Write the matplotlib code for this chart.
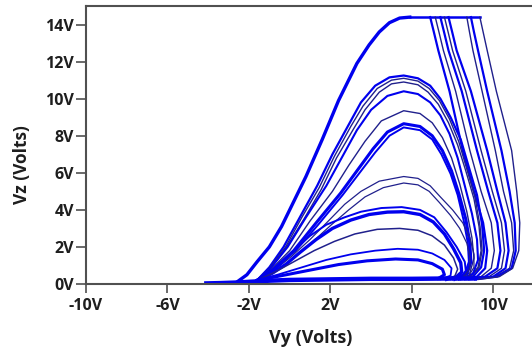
import matplotlib
matplotlib.use("Agg")
import matplotlib.pyplot as plt
from matplotlib.font_manager import FontProperties

# Axis ticks
x_ticks = [-10, -6, -2, 2, 6, 10]
y_ticks = [0, 2, 4, 6, 8, 10, 12, 14]

# Outer (saturated) loops: shared rise, flat top at 14.4V, then a fan of descents
outer_rise_vy = [-2.6, -2.1, -1.6, -1.0, -0.4, 0.0, 0.8, 1.6, 2.4, 3.3, 3.9, 4.4, 4.9, 5.4, 5.9]
outer_rise_vz = [0.1, 0.5, 1.2, 2.0, 3.1, 4.0, 5.8, 7.8, 9.9, 11.9, 12.9, 13.6, 14.1, 14.35, 14.4]
fall_vz = [14.4, 13.6, 12.6, 10.4, 7.2, 5.0, 3.3, 1.8, 0.85, 0.4, 0.25]
d1_vy = [6.9, 7.08, 7.3, 7.85, 8.5, 9.05, 9.5, 9.7, 9.6, 9.2, 8.4]
d2_vy = [7.15, 7.33, 7.55, 8.15, 8.85, 9.4, 9.9, 10.05, 9.9, 9.4, 8.5]
d3_vy = [7.4, 7.58, 7.8, 8.45, 9.2, 9.75, 10.2, 10.35, 10.2, 9.6, 8.6]
d4_vy = [7.6, 7.78, 8.0, 8.65, 9.4, 9.95, 10.4, 10.55, 10.4, 9.8, 8.7]
d5_vy = [7.8, 7.98, 8.2, 8.9, 9.7, 10.2, 10.6, 10.75, 10.6, 10.0, 8.8]
d6_vy = [8.7, 8.83, 9.0, 9.45, 10.1, 10.5, 10.9, 11.0, 10.8, 10.1, 9.0]
d7_vy = [8.9, 9.05, 9.25, 9.7, 10.4, 10.8, 11.05, 11.1, 10.9, 10.2, 9.1]
d8_vy = [9.34, 9.5, 9.7, 10.15, 10.9, 11.15, 11.3, 11.25, 10.95, 10.3, 9.3]

# Middle loops (peaks 8.5V - 11.3V)
m1_vy = [-1.6, -1.0, -0.3, 0.5, 1.35, 2.1, 2.9, 3.5, 4.2, 4.9, 5.6, 6.3, 6.9, 7.4, 7.9, 8.4, 8.8, 9.2, 9.45, 9.55, 9.4, 9.0, 8.3]
m1_vz = [0.2, 0.9, 2.0, 3.6, 5.3, 7.0, 8.6, 9.8, 10.7, 11.15, 11.25, 11.1, 10.7, 10.0, 9.0, 7.8, 6.3, 4.8, 3.2, 1.8, 0.9, 0.4, 0.25]
m2_vy = [-1.6, -0.95, -0.2, 0.6, 1.45, 2.2, 3.0, 3.6, 4.3, 5.0, 5.6, 6.3, 6.85, 7.35, 7.85, 8.3, 8.7, 9.1, 9.35, 9.45, 9.3, 8.9, 8.2]
m2_vz = [0.2, 0.9, 2.0, 3.6, 5.2, 6.9, 8.5, 9.6, 10.55, 11.0, 11.1, 10.95, 10.55, 9.9, 8.9, 7.7, 6.2, 4.7, 3.1, 1.8, 0.9, 0.4, 0.25]
m3_vy = [-1.6, -0.9, -0.15, 0.7, 1.55, 2.3, 3.1, 3.7, 4.4, 5.0, 5.6, 6.3, 6.8, 7.3, 7.8, 8.25, 8.65, 9.05, 9.3, 9.4, 9.25, 8.85, 8.2]
m3_vz = [0.2, 0.9, 2.0, 3.5, 5.1, 6.8, 8.3, 9.4, 10.35, 10.8, 10.9, 10.75, 10.35, 9.7, 8.7, 7.5, 6.1, 4.6, 3.1, 1.8, 0.9, 0.4, 0.25]
m4_vy = [-1.6, -0.9, -0.1, 0.8, 1.8, 2.6, 3.3, 4.0, 4.8, 5.6, 6.3, 6.9, 7.4, 7.85, 8.25, 8.6, 8.95, 9.2, 9.25, 9.0, 8.3]
m4_vz = [0.2, 0.9, 2.0, 3.6, 5.3, 6.9, 8.3, 9.4, 10.15, 10.4, 10.25, 9.8, 9.1, 8.1, 6.8, 5.3, 3.8, 2.4, 1.3, 0.55, 0.25]
m5_vy = [-1.6, -0.9, 0.0, 1.0, 2.1, 2.9, 3.7, 4.5, 5.6, 6.4, 7.0, 7.5, 7.95, 8.35, 8.7, 8.95, 9.05, 8.85, 8.2]
m5_vz = [0.2, 0.8, 1.8, 3.4, 5.0, 6.4, 7.7, 8.8, 9.35, 9.2, 8.7, 7.9, 6.8, 5.4, 3.9, 2.5, 1.4, 0.6, 0.25]
m6_vy = [-1.6, -0.8, 0.2, 1.3, 2.5, 3.3, 4.1, 4.8, 5.6, 6.4, 7.0, 7.5, 7.95, 8.3, 8.65, 8.85, 8.9, 8.7, 8.1]
m6_vz = [0.2, 0.8, 1.8, 3.3, 4.9, 6.1, 7.3, 8.2, 8.65, 8.5, 8.0, 7.2, 6.1, 4.9, 3.5, 2.2, 1.2, 0.55, 0.25]
m7_vy = [-1.6, -0.75, 0.3, 1.4, 2.6, 3.4, 4.2, 4.9, 5.6, 6.4, 7.0, 7.45, 7.9, 8.25, 8.55, 8.75, 8.8, 8.6, 8.0]
m7_vz = [0.2, 0.8, 1.8, 3.2, 4.8, 5.95, 7.1, 8.0, 8.45, 8.3, 7.8, 7.0, 5.95, 4.8, 3.4, 2.2, 1.2, 0.55, 0.25]

# Low loops (peaks 1.3V - 5.8V)
l1_vy = [-1.6, -0.8, 0.1, 1.0, 1.9, 2.7, 3.5, 4.4, 5.6, 6.3, 6.9, 7.4, 8.0, 8.5, 8.85, 9.05, 9.05, 8.8, 8.2]
l1_vz = [0.2, 0.7, 1.5, 2.4, 3.4, 4.3, 5.0, 5.55, 5.8, 5.7, 5.3, 4.7, 4.0, 3.3, 2.5, 1.6, 0.9, 0.45, 0.25]
l2_vy = [-1.6, -0.75, 0.2, 1.1, 2.0, 2.9, 3.7, 4.6, 5.6, 6.3, 6.85, 7.35, 7.9, 8.35, 8.7, 8.85, 8.85, 8.6, 8.0]
l2_vz = [0.2, 0.65, 1.4, 2.25, 3.15, 4.0, 4.7, 5.2, 5.45, 5.35, 5.0, 4.4, 3.7, 3.0, 2.2, 1.45, 0.85, 0.45, 0.25]
l3_vy = [-1.6, -1.0, -0.4, 0.2, 1.0, 1.8, 2.7, 3.5, 4.5, 5.5, 6.4, 7.1, 7.7, 8.2, 8.6, 8.65, 8.4, 7.9]
l3_vz = [0.2, 0.55, 1.1, 1.8, 2.6, 3.2, 3.6, 3.9, 4.1, 4.15, 4.0, 3.6, 2.8, 2.0, 1.2, 0.7, 0.4, 0.25]
l4_vy = [-1.6, -0.9, -0.2, 0.5, 1.3, 2.1, 3.0, 3.9, 4.8, 5.6, 6.4, 7.05, 7.6, 8.05, 8.4, 8.45, 8.2, 7.7]
l4_vz = [0.2, 0.55, 1.05, 1.7, 2.4, 3.0, 3.45, 3.75, 3.88, 3.9, 3.75, 3.35, 2.7, 1.9, 1.15, 0.65, 0.4, 0.25]
l5_vy = [-1.6, -0.8, 0.2, 1.2, 2.2, 3.2, 4.3, 5.4, 6.3, 7.0, 7.6, 8.05, 8.25, 8.1, 7.6]
l5_vz = [0.2, 0.6, 1.2, 1.8, 2.3, 2.7, 2.95, 3.0, 2.9, 2.6, 2.1, 1.4, 0.8, 0.4, 0.25]
l6_vy = [-1.6, -0.6, 0.6, 1.8, 3.0, 4.2, 5.3, 6.3, 7.0, 7.6, 7.95, 7.9, 7.4]
l6_vz = [0.2, 0.5, 0.9, 1.3, 1.6, 1.8, 1.9, 1.85, 1.65, 1.3, 0.85, 0.45, 0.25]
l7_vy = [-1.6, -0.4, 1.0, 2.4, 3.8, 5.2, 6.3, 7.0, 7.5, 7.6, 7.3]
l7_vz = [0.2, 0.45, 0.75, 1.05, 1.25, 1.35, 1.3, 1.1, 0.8, 0.5, 0.3]

# Return path along the bottom
bottom_vy = [-4.2, -3.4, -2.6, -1.8, -1.0, 0.0, 2.0, 4.0, 6.0, 8.0, 9.2]
bottom_vz = [0.03, 0.05, 0.08, 0.13, 0.18, 0.22, 0.25, 0.28, 0.28, 0.3, 0.3]

blue = "#0000ee"
navy = "#20208c"
text_c = "#1e1e1e"

fig = plt.figure(figsize=(5.32, 3.54), dpi=100)
ax = fig.add_axes([0.1617, 0.1977, 0.8383, 0.7853])

# outer loops
ax.plot(outer_rise_vy, outer_rise_vz, color=blue, lw=2.4)
ax.plot([outer_rise_vy[-1], d8_vy[0]], [14.4, 14.4], color=blue, lw=1.8)
for i, dvy in enumerate([d1_vy, d2_vy, d3_vy, d4_vy, d5_vy, d6_vy, d7_vy, d8_vy]):
    ax.plot(dvy, fall_vz, color=blue if i % 2 == 0 else navy, lw=1.6 if i % 2 == 0 else 1.0)

# middle loops
for vy, vz, c, lw in [(m1_vy, m1_vz, blue, 1.6), (m2_vy, m2_vz, navy, 1.0), (m3_vy, m3_vz, navy, 1.0),
                      (m4_vy, m4_vz, blue, 1.5), (m5_vy, m5_vz, navy, 1.0), (m6_vy, m6_vz, blue, 2.2),
                      (m7_vy, m7_vz, blue, 1.4)]:
    ax.plot(vy, vz, color=c, lw=lw)

# low loops
for vy, vz, c, lw in [(l1_vy, l1_vz, navy, 0.9), (l2_vy, l2_vz, navy, 0.9), (l3_vy, l3_vz, blue, 1.4),
                      (l4_vy, l4_vz, blue, 2.4), (l5_vy, l5_vz, navy, 1.1), (l6_vy, l6_vz, blue, 1.3),
                      (l7_vy, l7_vz, blue, 2.2)]:
    ax.plot(vy, vz, color=c, lw=lw)

ax.plot(bottom_vy, bottom_vz, color=blue, lw=3.2, solid_capstyle="butt")

ax.set_xlim(-10, 11.9)
ax.set_ylim(0, 15.0)
ax.set_xticks(x_ticks)
ax.set_xticklabels([f"{v}V" for v in x_ticks])
ax.set_yticks(y_ticks)
ax.set_yticklabels([f"{v}V" for v in y_ticks])

tick_font = FontProperties(family="Open Sans", weight="bold", size=11.5)
for lab in ax.get_xticklabels() + ax.get_yticklabels():
    lab.set_fontproperties(tick_font)
    lab.set_color(text_c)
ax.tick_params(axis="x", direction="out", length=6.5, width=1.2, color="#505050", pad=3.5)
ax.tick_params(axis="y", direction="out", length=7, width=1.2, color="#505050", pad=1.5)

for side in ["left", "top", "bottom"]:
    ax.spines[side].set_color("#505050")
    ax.spines[side].set_linewidth(1.5)
ax.spines["right"].set_visible(False)

ax.set_xlabel("Vy (Volts)", fontfamily="Open Sans", fontweight="bold", fontsize=13, color=text_c)
ax.set_ylabel("Vz (Volts)", fontfamily="Open Sans", fontweight="bold", fontsize=12.5, color=text_c)
ax.xaxis.set_label_coords(0.504, -0.194)
ax.xaxis.label.set_va("center")
ax.yaxis.set_label_coords(-0.1435, 0.428)
ax.yaxis.label.set_va("center")

fig.savefig("out.png", dpi=100)
